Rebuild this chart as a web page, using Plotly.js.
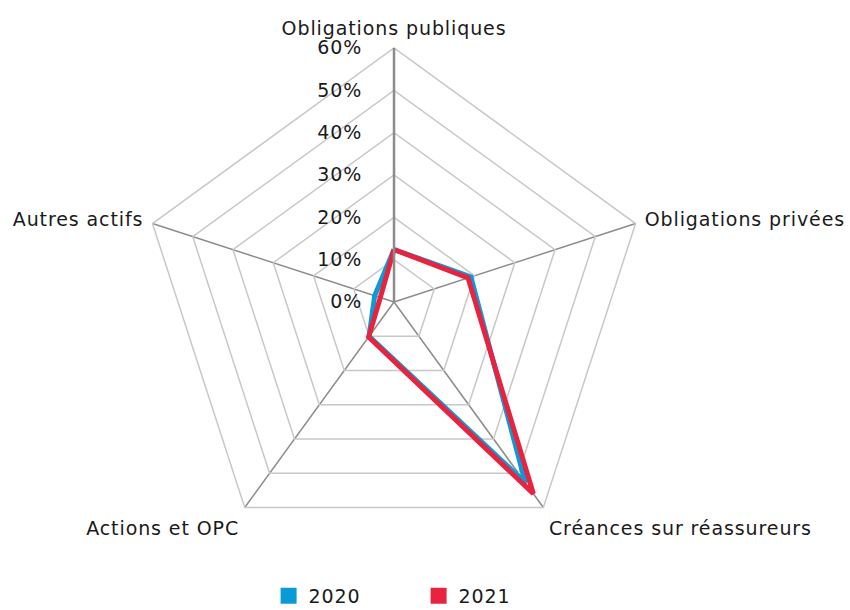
<!DOCTYPE html>
<html>
<head>
<meta charset="utf-8">
<script src="https://cdn.plot.ly/plotly-3.0.1.min.js"></script>
<style>html,body{margin:0;padding:0;background:#fff;}#chart{width:850px;height:610px;}#chart text{letter-spacing:0.9px;}</style>
</head>
<body>
<div id="chart"></div>
<script>
const categories = ["Obligations publiques", "Obligations privées", "Créances sur réassureurs", "Actions et OPC", "Autres actifs"];
const values2020 = [12.4, 19.1, 52.8, 10.0, 4.8];
const values2021 = [12.4, 18.4, 56.0, 10.2, 3.4];
const seriesNames = ["2020", "2021"];
const seriesColors = ["#0A9BD7", "#E8233F"];
const radialTicks = [0, 10, 20, 30, 40, 50, 60];
const radialTickText = ["0%", "10%", "20%", "30%", "40%", "50%", "60%"];

const close = a => a.concat([a[0]]);
const cats = close(categories);

const traces = [
  {type: 'scatterpolar', mode: 'lines', name: seriesNames[0], r: close(values2020), theta: cats,
   line: {color: seriesColors[0], width: 5}, showlegend: false},
  {type: 'scatterpolar', mode: 'lines', name: seriesNames[1], r: close(values2021), theta: cats,
   line: {color: seriesColors[1], width: 5}, showlegend: false},
  // legend-only entries with square swatches
  {type: 'scatterpolar', mode: 'markers', name: seriesNames[0], r: [null], theta: [categories[0]],
   marker: {symbol: 'square', size: 18, color: seriesColors[0]}},
  {type: 'scatterpolar', mode: 'markers', name: seriesNames[1], r: [null], theta: [categories[0]],
   marker: {symbol: 'square', size: 18, color: seriesColors[1]}}
];

const layout = {
  width: 850, height: 610,
  margin: {l: 0, r: 0, t: 0, b: 0, autoexpand: false},
  paper_bgcolor: '#fff',
  font: {family: '"DejaVu Sans", "Open Sans", sans-serif', size: 19, color: '#1a1a1a'},
  showlegend: true,
  legend: {orientation: 'h', x: 0.316, xanchor: 'left', y: 0.023, yanchor: 'middle',
           entrywidth: 105, itemwidth: 20, font: {size: 19}},
  polar: {
    domain: {x: [0.1647, 0.7624], y: [0.0885, 0.9213]},
    gridshape: 'linear',
    bgcolor: 'rgba(0,0,0,0)',
    angularaxis: {rotation: 90, direction: 'clockwise', showline: true, linecolor: '#c8c8c8', linewidth: 1.5,
                  gridcolor: '#8c8c8c', gridwidth: 1.5, ticks: 'outside', ticklen: 5, tickcolor: 'rgba(0,0,0,0)',
                  tickfont: {size: 19}},
    radialaxis: {range: [0, 60], tickmode: 'array', tickvals: radialTicks, ticktext: radialTickText, angle: 90, tickangle: 90,
                 side: 'counterclockwise', showline: true, linecolor: '#8c8c8c', linewidth: 2.5,
                 gridcolor: '#c8c8c8', gridwidth: 1.5, ticks: 'outside', ticklen: 24, tickcolor: 'rgba(0,0,0,0)',
                 tickfont: {size: 19}}
  }
};

Plotly.newPlot('chart', traces, layout, {displayModeBar: false, staticPlot: true});
</script>
</body>
</html>
